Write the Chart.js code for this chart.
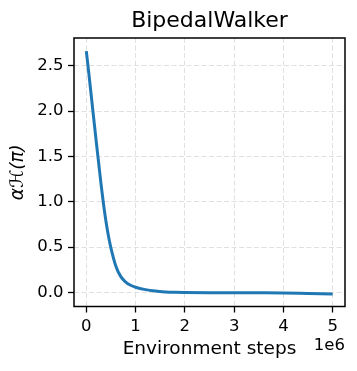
<!DOCTYPE html>
<html>
<head>
<meta charset="utf-8">
<script src="https://cdn.jsdelivr.net/npm/chart.js@4"></script>
<style>
  html, body { margin: 0; padding: 0; background: #fff; }
  canvas { display: block; }
</style>
</head>
<body>
<canvas id="chartAlpha" width="357" height="371"></canvas>
<script>
// environment steps (x) and alpha * entropy (y)
const steps = [0, 50000, 100000, 150000, 200000, 250000, 300000, 350000, 400000, 450000, 500000,
  600000, 700000, 800000, 900000, 1000000, 1200000, 1400000, 1600000, 1800000, 2000000,
  2500000, 3000000, 3500000, 4000000, 4500000, 5000000];
const alphaEntropy = [2.66, 2.42, 2.17, 1.92, 1.67, 1.43, 1.19, 0.97, 0.78, 0.62, 0.49,
  0.29, 0.175, 0.115, 0.08, 0.058, 0.032, 0.016, 0.007, 0.002, 0.0,
  -0.002, -0.002, -0.003, -0.005, -0.01, -0.015];
const xTicks = [0, 1, 2, 3, 4, 5];
const yTicks = [0.0, 0.5, 1.0, 1.5, 2.0, 2.5];
const chartTitle = 'BipedalWalker';

const FONT = 'DejaVu Sans';

// frame, title centred over the plot, and the 1e6 offset text
const framePlugin = {
    id: 'frame',
    afterDraw(chart) {
        const {ctx, chartArea: a} = chart;
        ctx.save();
        ctx.strokeStyle = '#000';
        ctx.lineWidth = 1.5;
        ctx.strokeRect(a.left, a.top, a.right - a.left, a.bottom - a.top);
        ctx.fillStyle = '#000';
        ctx.textBaseline = 'middle';
        ctx.textAlign = 'center';
        ctx.font = '22px "' + FONT + '"';
        ctx.fillText(chartTitle, (a.left + a.right) / 2, 21);
        ctx.font = '16.5px "' + FONT + '"';
        ctx.textAlign = 'right';
        ctx.fillText('1e6', a.right, 346);
        ctx.restore();
    }
};

const ctxAlpha = document.getElementById('chartAlpha');

new Chart(ctxAlpha, {
    type: 'line',
    data: {
        datasets: [{
            data: steps.map((s, i) => ({x: s, y: alphaEntropy[i]})),
            borderColor: '#1f77b4',
            borderWidth: 3,
            pointRadius: 0,
            cubicInterpolationMode: 'monotone',
            fill: false
        }]
    },
    options: {
        responsive: false,
        animation: false,
        devicePixelRatio: 1,
        layout: { padding: { left: 0, right: 12, top: 38, bottom: 0 } },
        scales: {
            x: {
                type: 'linear',
                min: -250000,
                max: 5250000,
                afterBuildTicks: s => { s.ticks = xTicks.map(v => ({value: v * 1e6})); },
                afterFit: s => { s.height = 64.5; },
                ticks: {
                    color: '#000',
                    padding: 4,
                    maxRotation: 0,
                    font: { family: FONT, size: 16.5 },
                    callback: v => String(v / 1e6)
                },
                grid: { color: '#e0e0e0', lineWidth: 1, tickLength: 6, tickColor: '#000', tickWidth: 1.3 },
                border: { display: false, dash: [5, 2.5] },
                title: {
                    display: true,
                    text: 'Environment steps',
                    color: '#000',
                    font: { family: FONT, size: 18.5 },
                    padding: { top: 0, bottom: 11 }
                }
            },
            y: {
                min: -0.154,
                max: 2.805,
                afterBuildTicks: s => { s.ticks = yTicks.map(v => ({value: v})); },
                afterFit: s => { s.width = 74; },
                ticks: {
                    color: '#000',
                    padding: 4.5,
                    font: { family: FONT, size: 16.5 },
                    callback: v => Number(v).toFixed(1)
                },
                grid: { color: '#e0e0e0', lineWidth: 1, tickLength: 6, tickColor: '#000', tickWidth: 1.3 },
                border: { display: false, dash: [5, 2.5] },
                title: {
                    display: true,
                    text: 'α\u210B(π)',
                    color: '#000',
                    font: { family: FONT, size: 18.5, style: 'italic' },
                    padding: { top: 7.5, bottom: 0 }
                }
            }
        },
        plugins: {
            legend: { display: false },
            tooltip: { enabled: false },
            title: { display: false }
        }
    },
    plugins: [framePlugin]
});
</script>
</body>
</html>
